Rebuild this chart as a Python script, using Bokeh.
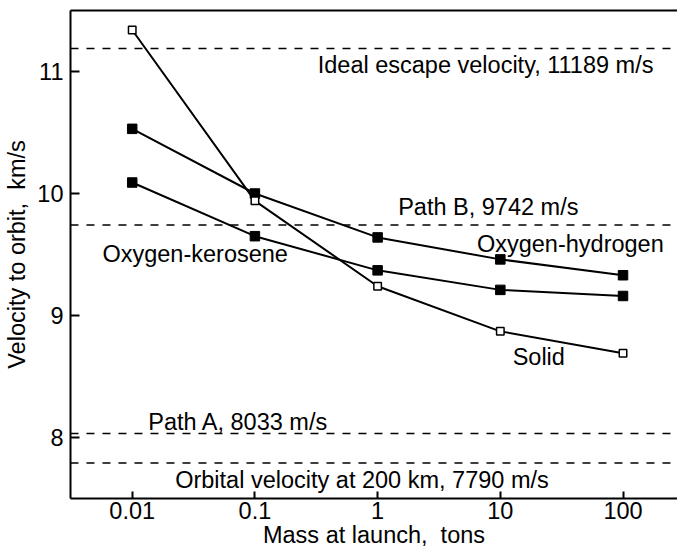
from bokeh.plotting import figure
from bokeh.models import FixedTicker, CustomJSTickFormatter, LinearAxis, Range1d, Span, ColumnDataSource
from bokeh.core.properties import value
from bokeh.embed import file_html
from bokeh.resources import INLINE

# ---- data ----
mass = [0.01, 0.1, 1, 10, 100]
oxy_hydrogen = [10.53, 10.00, 9.64, 9.46, 9.33]
oxy_kerosene = [10.09, 9.65, 9.37, 9.21, 9.16]
solid = [11.34, 9.94, 9.24, 8.87, 8.69]

ref_values = [11.189, 9.742, 8.033, 7.790]

x_ticks = [0.01, 0.1, 1, 10, 100]
x_tick_labels = ["0.01", "0.1", "1", "10", "100"]
y_ticks = [8, 9, 10, 11]

ann_text = ["Ideal escape velocity, 11189 m/s", "Path B, 9742 m/s", "Path A, 8033 m/s",
            "Orbital velocity at 200 km, 7790 m/s", "Oxygen-hydrogen", "Oxygen-kerosene", "Solid"]
ann_x = [0.325, 1.47, 0.0135, 0.0224, 6.45, 0.00572, 12.6]
ann_y = [11.050, 9.886, 8.129, 7.654, 9.585, 9.503, 8.656]

FONT = "Liberation Sans"
FS = "23.5px"

p = figure(width=677, height=553, x_axis_type="log",
           x_range=Range1d(10 ** -2.503, 10 ** 2.444), y_range=Range1d(7.5, 11.5),
           output_backend="svg", toolbar_location=None,
           min_border_left=70, min_border_right=0, min_border_top=10, min_border_bottom=55)
p.outline_line_color = None
p.grid.visible = False
p.background_fill_color = "white"

# axes styling
for ax in (p.xaxis[0], p.yaxis[0]):
    ax.axis_line_width = 2
    ax.axis_line_color = "black"
    ax.major_tick_line_width = 2
    ax.major_tick_line_color = "black"
    ax.minor_tick_line_color = None
    ax.major_tick_out = 0
    ax.major_label_text_font = FONT
    ax.major_label_text_font_size = FS
    ax.major_label_text_color = "black"
    ax.axis_label_text_font = FONT
    ax.axis_label_text_font_size = FS
    ax.axis_label_text_font_style = "normal"
    ax.axis_label_text_color = "black"

p.xaxis[0].ticker = FixedTicker(ticks=x_ticks)
p.xaxis[0].formatter = CustomJSTickFormatter(args=dict(vals=x_ticks, labs=x_tick_labels), code="""
    for (let i = 0; i < vals.length; i++) { if (Math.abs(Math.log10(tick) - Math.log10(vals[i])) < 1e-6) return labs[i]; }
    return "";
""")
p.xaxis[0].major_tick_in = 7
p.xaxis[0].major_label_standoff = 3
p.xaxis[0].axis_label = "Mass at launch,\u00a0 tons"
p.xaxis[0].axis_label_standoff = 0

p.yaxis[0].ticker = FixedTicker(ticks=y_ticks)
p.yaxis[0].major_tick_in = 9
p.yaxis[0].major_label_standoff = 7
p.yaxis[0].axis_label = "Velocity to orbit,\u00a0 km/s"
p.yaxis[0].axis_label_standoff = 4

top = LinearAxis(ticker=FixedTicker(ticks=[]), axis_line_width=2, axis_line_color="black",
                 major_tick_in=0, major_tick_out=0, minor_tick_in=0, minor_tick_out=0,
                 major_label_text_font_size="0px", major_label_standoff=0)
p.add_layout(top, "above")

# reference lines
for v in ref_values:
    p.add_layout(Span(location=v, dimension="width", line_color="black",
                      line_width=1.5, line_dash="8 8"))

# series
src = ColumnDataSource(dict(x=mass, h=oxy_hydrogen, k=oxy_kerosene, s=solid))
for col in ("h", "k", "s"):
    p.line("x", col, source=src, line_color="black", line_width=2)
p.scatter("x", "h", source=src, marker="square", size=9.5, fill_color="black", line_color="black")
p.scatter("x", "k", source=src, marker="square", size=9.5, fill_color="black", line_color="black")
p.scatter("x", "s", source=src, marker="square", size=7.5, fill_color="white", line_color="black", line_width=1.5)

# annotations
tsrc = ColumnDataSource(dict(x=ann_x, y=ann_y, t=ann_text))
p.text("x", "y", text="t", source=tsrc, text_font=value(FONT), text_font_size=FS,
       text_color="black", text_align="left", text_baseline="middle")

open("out.html", "w").write(file_html(p, INLINE))
